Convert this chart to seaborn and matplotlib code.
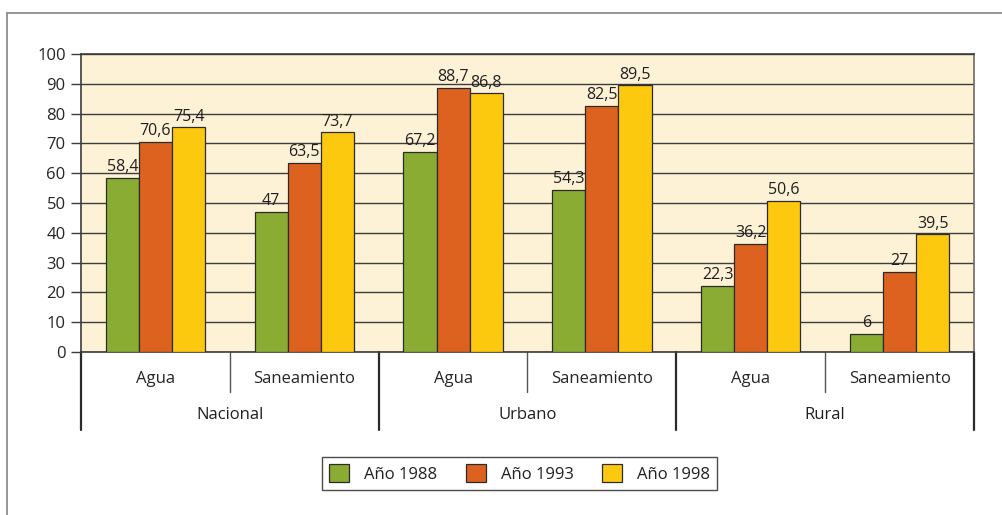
import pandas as pd
import matplotlib.pyplot as plt
import seaborn as sns
from matplotlib.transforms import blended_transform_factory
from matplotlib.lines import Line2D

# ------------------------
# datos
# ------------------------
zonas = ["Nacional", "Urbano", "Rural"]
servicios = ["Agua", "Saneamiento"]
anios = ["Año 1988", "Año 1993", "Año 1998"]
v1988 = [58.4, 47, 67.2, 54.3, 22.3, 6]
v1993 = [70.6, 63.5, 88.7, 82.5, 36.2, 27]
v1998 = [75.4, 73.7, 86.8, 89.5, 50.6, 39.5]
colores = ["#8aac32", "#dd6220", "#fdc90f"]

cats = [f"{z}-{s}" for z in zonas for s in servicios]
rows = []
for anio, vals in zip(anios, [v1988, v1993, v1998]):
    for c, v in zip(cats, vals):
        rows.append({"cat": c, "anio": anio, "valor": v})
df = pd.DataFrame(rows)

sns.set_style("white")
plt.rcParams['font.family'] = ['Open Sans', 'DejaVu Sans']
plt.rcParams['text.color'] = '#231f20'
FS = 12

fig = plt.figure(figsize=(10.03, 5.15), dpi=100)
ax = fig.add_axes([81/1003, 1-352/515, 893/1003, 298/515])
ax.set_facecolor("#fdf2d6")

sns.barplot(data=df, x="cat", y="valor", hue="anio", order=cats, hue_order=anios,
            palette=colores, width=0.667, edgecolor="#2b2b2b", linewidth=0.9,
            saturation=1, ax=ax, legend=False, zorder=3)

# etiquetas con coma decimal
def fmt(v):
    return (f"{v:g}").replace(".", ",")

for cont in ax.containers:
    ax.bar_label(cont, labels=[fmt(b.get_height()) for b in cont], padding=2,
                 fontsize=11.5, color="#231f20")

ax.set_ylim(0, 100)
ax.set_xlim(-0.5, 5.5)
ax.set_yticks(range(0, 101, 10))
ax.yaxis.grid(True, color="#3c3c3c", linewidth=1.0, zorder=0)
ax.set_axisbelow(True)
ax.tick_params(axis="y", length=7, width=1, color="#3c3c3c", labelsize=FS,
               left=True, pad=4)
ax.tick_params(axis="x", length=0, labelsize=FS, pad=14)
ax.set_xticks(range(6))
ax.set_xticklabels(servicios * 3)
ax.set_xlabel("")
ax.set_ylabel("")
for sp in ax.spines.values():
    sp.set_color("#3c3c3c")
    sp.set_linewidth(1.2)
ax.spines["right"].set_color("#6e6a60")

# ejes jerarquicos
tr = blended_transform_factory(ax.transData, ax.transAxes)
for x in [0.5, 2.5, 4.5]:
    ax.plot([x, x], [0, -0.135], transform=tr, color="#555555", lw=1.0, clip_on=False)
for x in [-0.5, 1.5, 3.5, 5.5]:
    ax.plot([x, x], [0, -0.262], transform=tr, color="#2b2b2b", lw=1.6, clip_on=False)
for i, z in enumerate(zonas):
    ax.text(2 * i + 0.5, -0.21, z, transform=tr, ha="center", va="center", fontsize=FS)

# marco exterior
fig.add_artist(Line2D([7/1003, 1.0], [1-13/515, 1-13/515], transform=fig.transFigure,
                      color="#8c8c8c", lw=1.3))
fig.add_artist(Line2D([7/1003, 7/1003], [0, 1-13/515], transform=fig.transFigure,
                      color="#8c8c8c", lw=1.3))

# leyenda
handles = [plt.Rectangle((0, 0), 1, 1, facecolor=c, edgecolor="#2b2b2b", lw=0.9) for c in colores]
leg = fig.legend(handles, anios, loc="center", bbox_to_anchor=(519.5/1003, 1-473.5/515),
                 ncol=3, fontsize=FS, frameon=True, fancybox=False, edgecolor="#231f20",
                 handlelength=1.2, handleheight=1.2, columnspacing=1.7, handletextpad=0.9,
                 borderpad=0.45)
leg.get_frame().set_linewidth(1.0)

fig.savefig("out.png", dpi=100)
